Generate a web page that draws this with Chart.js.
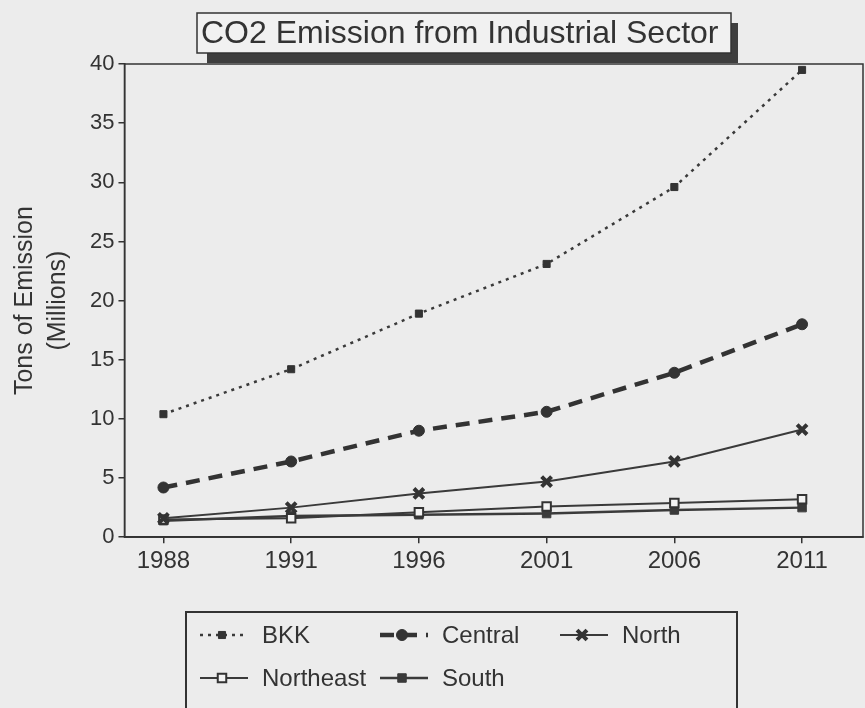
<!DOCTYPE html>
<html>
<head>
<meta charset="utf-8">
<title>CO2 Emission from Industrial Sector</title>
<script src="https://cdn.jsdelivr.net/npm/chart.js@4.4.1/dist/chart.umd.min.js"></script>
<style>
    html, body { margin: 0; padding: 0; background: #ececec; overflow: hidden; }
    #wrap { width: 865px; height: 708px; }
</style>
</head>
<body>
<div id="wrap"><canvas id="main-chart"></canvas></div>
<script>
// values (millions of tons)
const years = ['1988', '1991', '1996', '2001', '2006', '2011'];
const bkk = [10.4, 14.2, 18.9, 23.1, 29.6, 39.5];
const central = [4.2, 6.4, 9.0, 10.6, 13.9, 18.0];
const north = [1.6, 2.5, 3.7, 4.7, 6.4, 9.1];
const northeast = [1.5, 1.6, 2.1, 2.6, 2.9, 3.2];
const south = [1.4, 1.8, 1.9, 2.0, 2.3, 2.5];
const yTicks = [0, 5, 10, 15, 20, 25, 30, 35, 40];

const ink = '#333333';
const fontFamily = '"Liberation Sans", Arial, sans-serif';

Chart.defaults.font.family = fontFamily;
Chart.defaults.color = ink;

function points(values) {
    return values.map((v, i) => ({x: i, y: v}));
}

// grey page behind everything
const paper = {
    id: 'paper',
    beforeDraw(chart) {
        let ctx = chart.ctx;
        ctx.save();
        ctx.fillStyle = '#ececec';
        ctx.fillRect(0, 0, chart.width, chart.height);
        ctx.restore();
    },
    beforeDatasetsDraw(chart) {
        // closed frame round the plot
        let a = chart.chartArea, ctx = chart.ctx;
        ctx.save();
        ctx.strokeStyle = ink;
        ctx.lineWidth = 1.5;
        ctx.strokeRect(a.left, a.top, a.right - a.left, a.bottom - a.top);
        ctx.restore();
    }
};

// title in a box with a drop shadow
const boxTitle = {
    id: 'boxTitle',
    afterDraw(chart, args, opts) {
        let ctx = chart.ctx;
        let x = 197, y = 13, w = 534, h = 40;
        ctx.save();
        ctx.fillStyle = '#3e3e3e';
        ctx.fillRect(x + 10, y + 10, w - 3, h);
        ctx.fillStyle = '#f1f1f1';
        ctx.fillRect(x, y, w, h);
        ctx.strokeStyle = ink;
        ctx.lineWidth = 1.5;
        ctx.strokeRect(x, y, w, h);
        ctx.fillStyle = ink;
        ctx.font = '32px ' + fontFamily;
        ctx.textBaseline = 'middle';
        ctx.fillText(opts.text, x + 4, y + h / 2 + 1);
        ctx.restore();
    }
};

// legend laid out in a grid of three columns, with line + marker samples
const gridLegend = {
    id: 'gridLegend',
    afterDraw(chart) {
        let ctx = chart.ctx;
        let bx = 186, by = 612;
        ctx.save();
        ctx.strokeStyle = ink;
        ctx.lineWidth = 2;
        ctx.strokeRect(bx, by, 551, 110);
        ctx.font = '24px ' + fontFamily;
        ctx.textBaseline = 'middle';
        chart.data.datasets.forEach(function (ds, i) {
            let x = bx + 14 + (i % 3) * 180;
            let y = by + 23 + Math.floor(i / 3) * 43;
            ctx.strokeStyle = ds.borderColor;
            ctx.lineWidth = ds.borderWidth;
            ctx.setLineDash(ds.borderDash || []);
            ctx.beginPath();
            ctx.moveTo(x, y);
            ctx.lineTo(x + 48, y);
            ctx.stroke();
            ctx.setLineDash([]);
            ctx.fillStyle = ds.pointBackgroundColor;
            ctx.strokeStyle = ds.pointBorderColor;
            ctx.lineWidth = ds.pointBorderWidth;
            Chart.helpers.drawPoint(ctx, {
                pointStyle: ds.pointStyle,
                radius: ds.pointRadius,
                borderWidth: ds.pointBorderWidth,
                rotation: 0
            }, x + 22, y);
            ctx.fillStyle = ink;
            ctx.fillText(ds.label, x + 62, y + 1);
        });
        ctx.restore();
    }
};

let data = {
    datasets: [
        {
            label: 'BKK',
            data: points(bkk),
            borderColor: '#3a3a3a',
            borderWidth: 2.5,
            borderDash: [3, 5],
            pointStyle: 'rect',
            pointRadius: 5,
            pointBorderWidth: 1,
            pointBackgroundColor: '#333',
            pointBorderColor: '#333'
        },
        {
            label: 'Central',
            data: points(central),
            borderColor: '#333',
            borderWidth: 4.5,
            borderDash: [14, 9],
            pointStyle: 'circle',
            pointRadius: 5.5,
            pointBorderWidth: 1,
            pointBackgroundColor: '#333',
            pointBorderColor: '#333'
        },
        {
            label: 'North',
            data: points(north),
            borderColor: '#3a3a3a',
            borderWidth: 2,
            pointStyle: 'crossRot',
            pointRadius: 7,
            pointBorderWidth: 4,
            pointBackgroundColor: '#333',
            pointBorderColor: '#333'
        },
        {
            label: 'Northeast',
            data: points(northeast),
            borderColor: '#3a3a3a',
            borderWidth: 2,
            pointStyle: 'rect',
            pointRadius: 6,
            pointBorderWidth: 2,
            pointBackgroundColor: '#f3f3f3',
            pointBorderColor: '#333'
        },
        {
            label: 'South',
            data: points(south),
            borderColor: '#3a3a3a',
            borderWidth: 2.5,
            pointStyle: 'rect',
            pointRadius: 6,
            pointBorderWidth: 1,
            pointBackgroundColor: '#3a3a3a',
            pointBorderColor: '#3a3a3a'
        }
    ]
};

let options = {
    maintainAspectRatio: false,
    responsive: true,
    animation: false,
    layout: {
        autoPadding: false,
        padding: {top: 64, left: 7, right: 2, bottom: 128}
    },
    plugins: {
        legend: {display: false},
        tooltip: {enabled: false},
        boxTitle: {text: 'CO2 Emission from Industrial Sector'}
    },
    scales: {
        x: {
            type: 'linear',
            min: -0.305,
            max: 5.477,
            afterBuildTicks(axis) {
                axis.ticks = years.map((y, i) => ({value: i}));
            },
            afterFit(axis) {
                axis.paddingLeft = 0;
                axis.paddingRight = 0;
            },
            ticks: {
                callback: (v) => years[v],
                font: {size: 24},
                padding: 4,
                color: ink
            },
            grid: {drawOnChartArea: false, drawTicks: true, tickLength: 6, color: ink, lineWidth: 1.5},
            border: {color: ink, width: 1.5}
        },
        y: {
            min: 0,
            max: 40,
            afterBuildTicks(axis) {
                axis.ticks = yTicks.map((v) => ({value: v}));
            },
            ticks: {
                font: {size: 22},
                padding: 4,
                color: ink
            },
            grid: {drawOnChartArea: false, drawTicks: true, tickLength: 6, color: ink, lineWidth: 1.5},
            border: {color: ink, width: 1.5},
            title: {
                display: true,
                text: ['Tons of Emission', '(Millions)'],
                font: {size: 25, lineHeight: 1.3},
                padding: {top: 2, bottom: 12},
                color: ink
            }
        }
    }
};

let myChart = new Chart(document.getElementById('main-chart'), {
    type: 'line',
    data: data,
    options: options,
    plugins: [paper, boxTitle, gridLegend]
});
</script>
</body>
</html>
